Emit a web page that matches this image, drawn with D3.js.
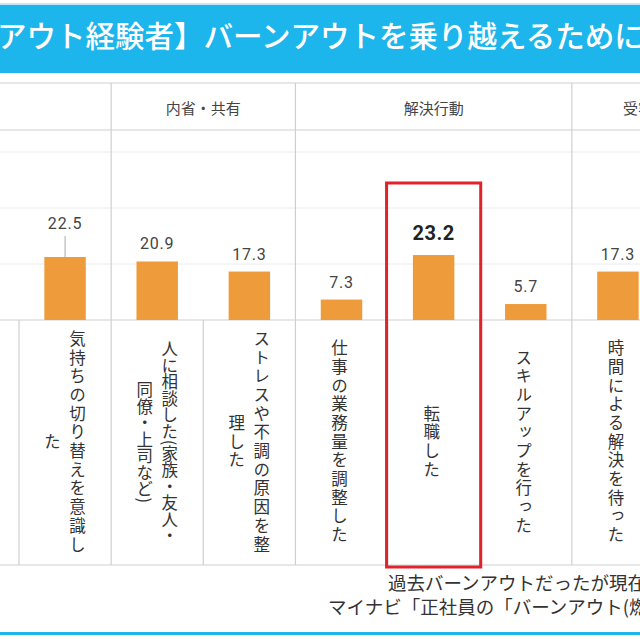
<!DOCTYPE html>
<html>
<head>
<meta charset="utf-8">
<title>バーンアウトを乗り越えるために</title>
<script src="https://cdn.jsdelivr.net/npm/d3@7"></script>
<style>
  body { margin: 0; background: #fff; }
  svg { display: block; font-family: "Noto Sans CJK JP", "Noto Sans", sans-serif; }
  .num { font-family: Roboto, "Noto Sans", sans-serif; }
</style>
</head>
<body>
<div id="chart"></div>
<script>
// values
const categories = ["気持ちの切り替えを意識した", "人に相談した(家族・友人・同僚・上司など)", "ストレスや不調の原因を整理した",
  "仕事の業務量を調整した", "転職した", "スキルアップを行った", "時間による解決を待った"];
const labelLines = [["気持ちの切り替えを意識し", "た"], ["人に相談した(家族・友人・", "同僚・上司など)"],
  ["ストレスや不調の原因を整", "理した"], ["仕事の業務量を調整した"], ["転職した"], ["スキルアップを行った"], ["時間による解決を待った"]];
const values = [22.5, 20.9, 17.3, 7.3, 23.2, 5.7, 17.3];
const groupNames = ["", "内省・共有", "解決行動", "受容"];
const groupOf = [0, 1, 1, 2, 2, 2, 3];
const yTicks = [0, 20, 40, 60];
const highlight = "転職した";
const raisedLabel = "気持ちの切り替えを意識した";

const title = "アウト経験者】バーンアウトを乗り越えるために";
const notes = ["過去バーンアウトだったが現在", "マイナビ「正社員の「バーンアウト(燃"];

const width = 640, height = 640;
const plotTop = 130, baseY = 320, labelBottom = 565;

const svg = d3.select("#chart").append("svg")
  .attr("width", width).attr("height", height);

// title band
svg.append("rect").attr("x", 0).attr("y", 3).attr("width", width).attr("height", 2).attr("fill", "#bfe9f8");
svg.append("rect").attr("x", 0).attr("y", 5).attr("width", width).attr("height", 68).attr("fill", "#1cb5ec");
svg.append("text")
  .attr("x", -3).attr("y", 47)
  .attr("fill", "#fff")
  .attr("font-size", 29.5)
  .attr("font-weight", 500)
  .text(title);

const x = d3.scaleBand().domain(categories).range([19, 664]).paddingInner(0.55).paddingOuter(0.275);
const y = d3.scaleLinear().domain([0, 60]).range([baseY, baseY - 168]);
const edge = i => x.range()[0] + i * x.step();

// grid lines
svg.append("g").selectAll("line").data(yTicks.filter(d => d > 0)).join("line")
  .attr("x1", 0).attr("x2", width)
  .attr("y1", d => y(d)).attr("y2", d => y(d))
  .attr("stroke", "#ececec").attr("stroke-width", 1);

// table frame
const frame = svg.append("g").attr("stroke", "#cfcfcf").attr("stroke-width", 1.2);
[83, plotTop, baseY, labelBottom].forEach(v => {
  frame.append("line").attr("x1", 0).attr("x2", width).attr("y1", v).attr("y2", v);
});

// group separators (full height) and category separators (label row only)
categories.forEach((c, i) => {
  const full = i > 0 && groupOf[i] !== groupOf[i - 1];
  frame.append("line")
    .attr("x1", edge(i)).attr("x2", edge(i))
    .attr("y1", full ? 83 : baseY).attr("y2", labelBottom);
});

// group header labels
groupNames.forEach((g, k) => {
  const idx = groupOf.map((d, i) => d === k ? i : -1).filter(i => i >= 0);
  const x0 = edge(idx[0]), x1 = edge(idx[idx.length - 1] + 1);
  const last = k === groupNames.length - 1;
  svg.append("text")
    .attr("x", last ? 623 : (x0 + x1) / 2).attr("y", 110)
    .attr("text-anchor", last ? "start" : "middle")
    .attr("dominant-baseline", "middle")
    .attr("font-size", 15).attr("fill", "#444")
    .text(g);
});

// bars
svg.append("g").selectAll("rect").data(values).join("rect")
  .attr("x", (d, i) => x(categories[i]))
  .attr("y", d => y(d))
  .attr("width", x.bandwidth())
  .attr("height", d => y(0) - y(d))
  .attr("fill", "#ee9c3b");

// value labels
values.forEach((v, i) => {
  const cx = x(categories[i]) + x.bandwidth() / 2;
  const hi = categories[i] === highlight;
  const raised = categories[i] === raisedLabel;
  const ty = raised ? y(v) - 28 : y(v) - (hi ? 15 : 12);
  if (raised) {
    svg.append("line").attr("x1", cx).attr("x2", cx)
      .attr("y1", ty + 7).attr("y2", y(v))
      .attr("stroke", "#aaa").attr("stroke-width", 1);
  }
  svg.append("text").attr("class", "num")
    .attr("x", cx).attr("y", ty)
    .attr("text-anchor", "middle")
    .attr("font-size", hi ? 20 : 16)
    .attr("font-weight", hi ? 700 : 400)
    .attr("letter-spacing", hi ? 0.5 : 0.8)
    .attr("fill", hi ? "#222" : "#444")
    .text(v.toFixed(1));
});

// vertical category labels
const pitch = 25, midY = (baseY + labelBottom) / 2;
labelLines.forEach((lines, i) => {
  const cx = x(categories[i]) + x.bandwidth() / 2;
  const spacing = lines[0].length > 12 ? 0 : 2.2;
  lines.forEach((t, j) => {
    svg.append("text")
      .attr("x", cx + ((lines.length - 1) / 2 - j) * pitch + (lines.length > 1 ? 0 : -2))
      .attr("y", midY)
      .attr("text-anchor", "middle")
      .style("writing-mode", "vertical-rl")
      .attr("font-size", 16.5)
      .attr("letter-spacing", spacing)
      .attr("fill", "#333")
      .text(t);
  });
});

// highlight box
const hx = edge(categories.indexOf(highlight));
svg.append("rect")
  .attr("x", hx - 1).attr("y", 183)
  .attr("width", x.step() + 2).attr("height", labelBottom + 2 - 183)
  .attr("fill", "none").attr("stroke", "#e0232b").attr("stroke-width", 3);

// source notes
svg.append("text").attr("x", 388).attr("y", 590)
  .attr("font-size", 18.5).attr("fill", "#333").text(notes[0]);
svg.append("text").attr("x", 328).attr("y", 614)
  .attr("font-size", 18.5).attr("fill", "#333").text(notes[1]);

// bottom rule
svg.append("rect").attr("x", 0).attr("y", 632).attr("width", width).attr("height", 3).attr("fill", "#1cb5ec");
</script>
</body>
</html>
